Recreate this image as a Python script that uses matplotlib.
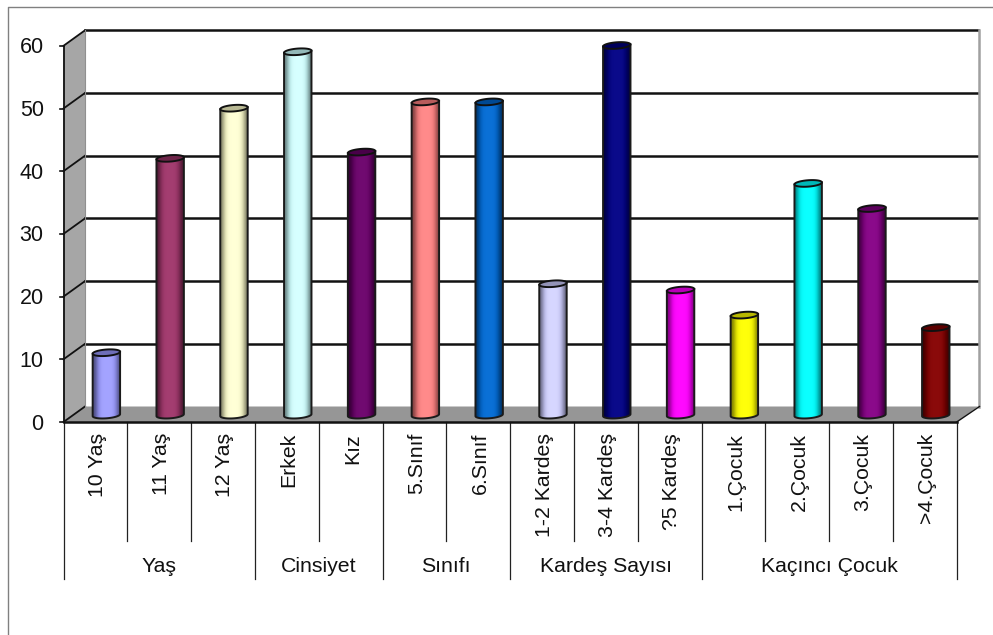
import numpy as np
import matplotlib
matplotlib.use('Agg')
import matplotlib.pyplot as plt
from matplotlib.patches import Polygon
from matplotlib.colors import to_rgb

plt.rcParams['font.family'] = ['Liberation Sans', 'DejaVu Sans']

labels = ['10 Yaş', '11 Yaş', '12 Yaş', 'Erkek', 'Kız', '5.Sınıf', '6.Sınıf',
          '1-2 Kardeş', '3-4 Kardeş', '?5 Kardeş', '1.Çocuk', '2.Çocuk', '3.Çocuk', '>4.Çocuk']
values = [10, 41, 49, 58, 42, 50, 50, 21, 59, 20, 16, 37, 33, 14]
colors = ['#9999FF', '#993366', '#FFFFCC', '#CCFFFF', '#660066', '#FF8080', '#0066CC',
          '#CCCCFF', '#000080', '#FF00FF', '#FFFF00', '#00FFFF', '#800080', '#800000']
groups = ['Yaş', 'Cinsiyet', 'Sınıfı', 'Kardeş Sayısı', 'Kaçıncı Çocuk']
group_edges = [0, 3, 5, 7, 10, 14]
yticks = [0, 10, 20, 30, 40, 50, 60]

# scale of the picture, pixels per unit
W, H = 993, 635
x0, cat_w = 63.5, 63.8
y0, unit = 422.0, 6.27
dx = 21.5 / cat_w   # depth of the 3d box
dy = 15.5 / unit

fig = plt.figure(figsize=(W / 100, H / 100), dpi=100)
ax = fig.add_axes([0, 0, 1, 1])
xlim = (-x0 / cat_w, (W - x0) / cat_w)
ylim = (-(H - y0) / unit, y0 / unit)
ax.axis('off')

n = len(labels)

# outer frame of the pasted picture
ax.plot([xlim[1], 8.0 / cat_w + xlim[0], 8.0 / cat_w + xlim[0]],
        [ylim[1] - 6.5 / unit, ylim[1] - 6.5 / unit, ylim[0]], color='#808080', lw=1.0, zorder=1)


def gradient_patch(poly, cols, extent, zorder=2):
    im = ax.imshow(np.array([[to_rgb(c) for c in cols]]),
                   extent=extent, aspect='auto', interpolation='bicubic', zorder=zorder)
    patch = Polygon(poly, closed=True, transform=ax.transData, fc='none', ec='none')
    ax.add_patch(patch)
    im.set_clip_path(patch)


# side wall and floor
ax.add_patch(Polygon([(0, 0), (dx, dy), (dx, 60 + dy), (0, 60)], fc='#A6A6A6', ec='none', zorder=2))
ax.add_patch(Polygon([(0, 0), (n, 0), (n + dx, dy), (dx, dy)], fc='#969696', ec='none', zorder=2))

# back wall grid and diagonals
for t in yticks[1:]:
    ax.plot([dx, n + dx], [t + dy, t + dy], color='#111111', lw=1.8, zorder=3)
for t in yticks:
    ax.plot([0, dx], [t, t + dy], color='#111111', lw=1.3, zorder=3)
    ax.plot([-0.055, 0], [t, t], color='#111111', lw=1.2, zorder=3)
    ax.text(-0.31, t - 2 / unit, str(t), ha='right', va='center', fontsize=15.5, color='#111111')
ax.plot([n + dx + 0.02] * 2, [dy, 60 + dy], color='#A0A0A0', lw=1.8, zorder=3)
ax.plot([n, n + dx + 0.02], [0, dy], color='#111111', lw=1.0, zorder=3)
ax.plot([dx, dx], [dy, 60 + dy], color='#909090', lw=0.8, zorder=3)
ax.plot([0, 0], [0, 60], color='#111111', lw=1.3, zorder=3)
ax.plot([0, n], [0, 0], color='#111111', lw=1.8, zorder=6)

# cylinders
half_w = 0.215
ry = 3.2 / unit
tilt = 1.0 / unit
t_low = np.linspace(np.pi, 2 * np.pi, 40)
t_all = np.linspace(0, 2 * np.pi, 80)
for i, (v, c) in enumerate(zip(values, colors)):
    cx = i + 0.5 + 0.172
    base = 1.1
    top = v + 1.05
    rgb = np.array(to_rgb(c))
    dark = rgb * 0.5
    mid = rgb * 0.9
    light = np.clip(rgb * 1.0 + 0.04, 0, 1)
    xs_low = cx + half_w * np.cos(t_low)
    ys_low = base + ry * np.sin(t_low) + tilt * np.cos(t_low)
    body = list(zip(xs_low, ys_low)) + [(cx + half_w, top + tilt), (cx - half_w, top - tilt)]
    gradient_patch(body, [dark, mid, light, light, light, light, mid, dark],
                   (cx - half_w, cx + half_w, base - ry - 1, top + 1), zorder=4)
    ax.add_patch(Polygon(body, fc='none', ec='#1A1A1A', lw=1.4, zorder=5))
    ell = list(zip(cx + half_w * np.cos(t_all),
                   top + ry * np.sin(t_all) + tilt * np.cos(t_all)))
    ax.add_patch(Polygon(ell, fc=rgb * 0.72, ec='#111111', lw=1.4, zorder=5))

# category axis, two tiers
tier1 = (541 - y0) / -unit
tier2 = (579 - y0) / -unit
for i in range(n + 1):
    ax.plot([i, i], [0, tier2 if i in group_edges else tier1], color='#222222', lw=0.9, zorder=3)
for i, lab in enumerate(labels):
    ax.text(i + 0.5 + 2 / cat_w, -11 / unit, lab, rotation=90, ha='center', va='top',
            fontsize=15.3, color='#111111')
for k, g in enumerate(groups):
    ax.text((group_edges[k] + group_edges[k + 1]) / 2, -(566 - y0) / unit, g,
            ha='center', va='center', fontsize=15.3, color='#111111')

ax.set_xlim(xlim)
ax.set_ylim(ylim)
fig.savefig('out.png', dpi=100, facecolor='white')
